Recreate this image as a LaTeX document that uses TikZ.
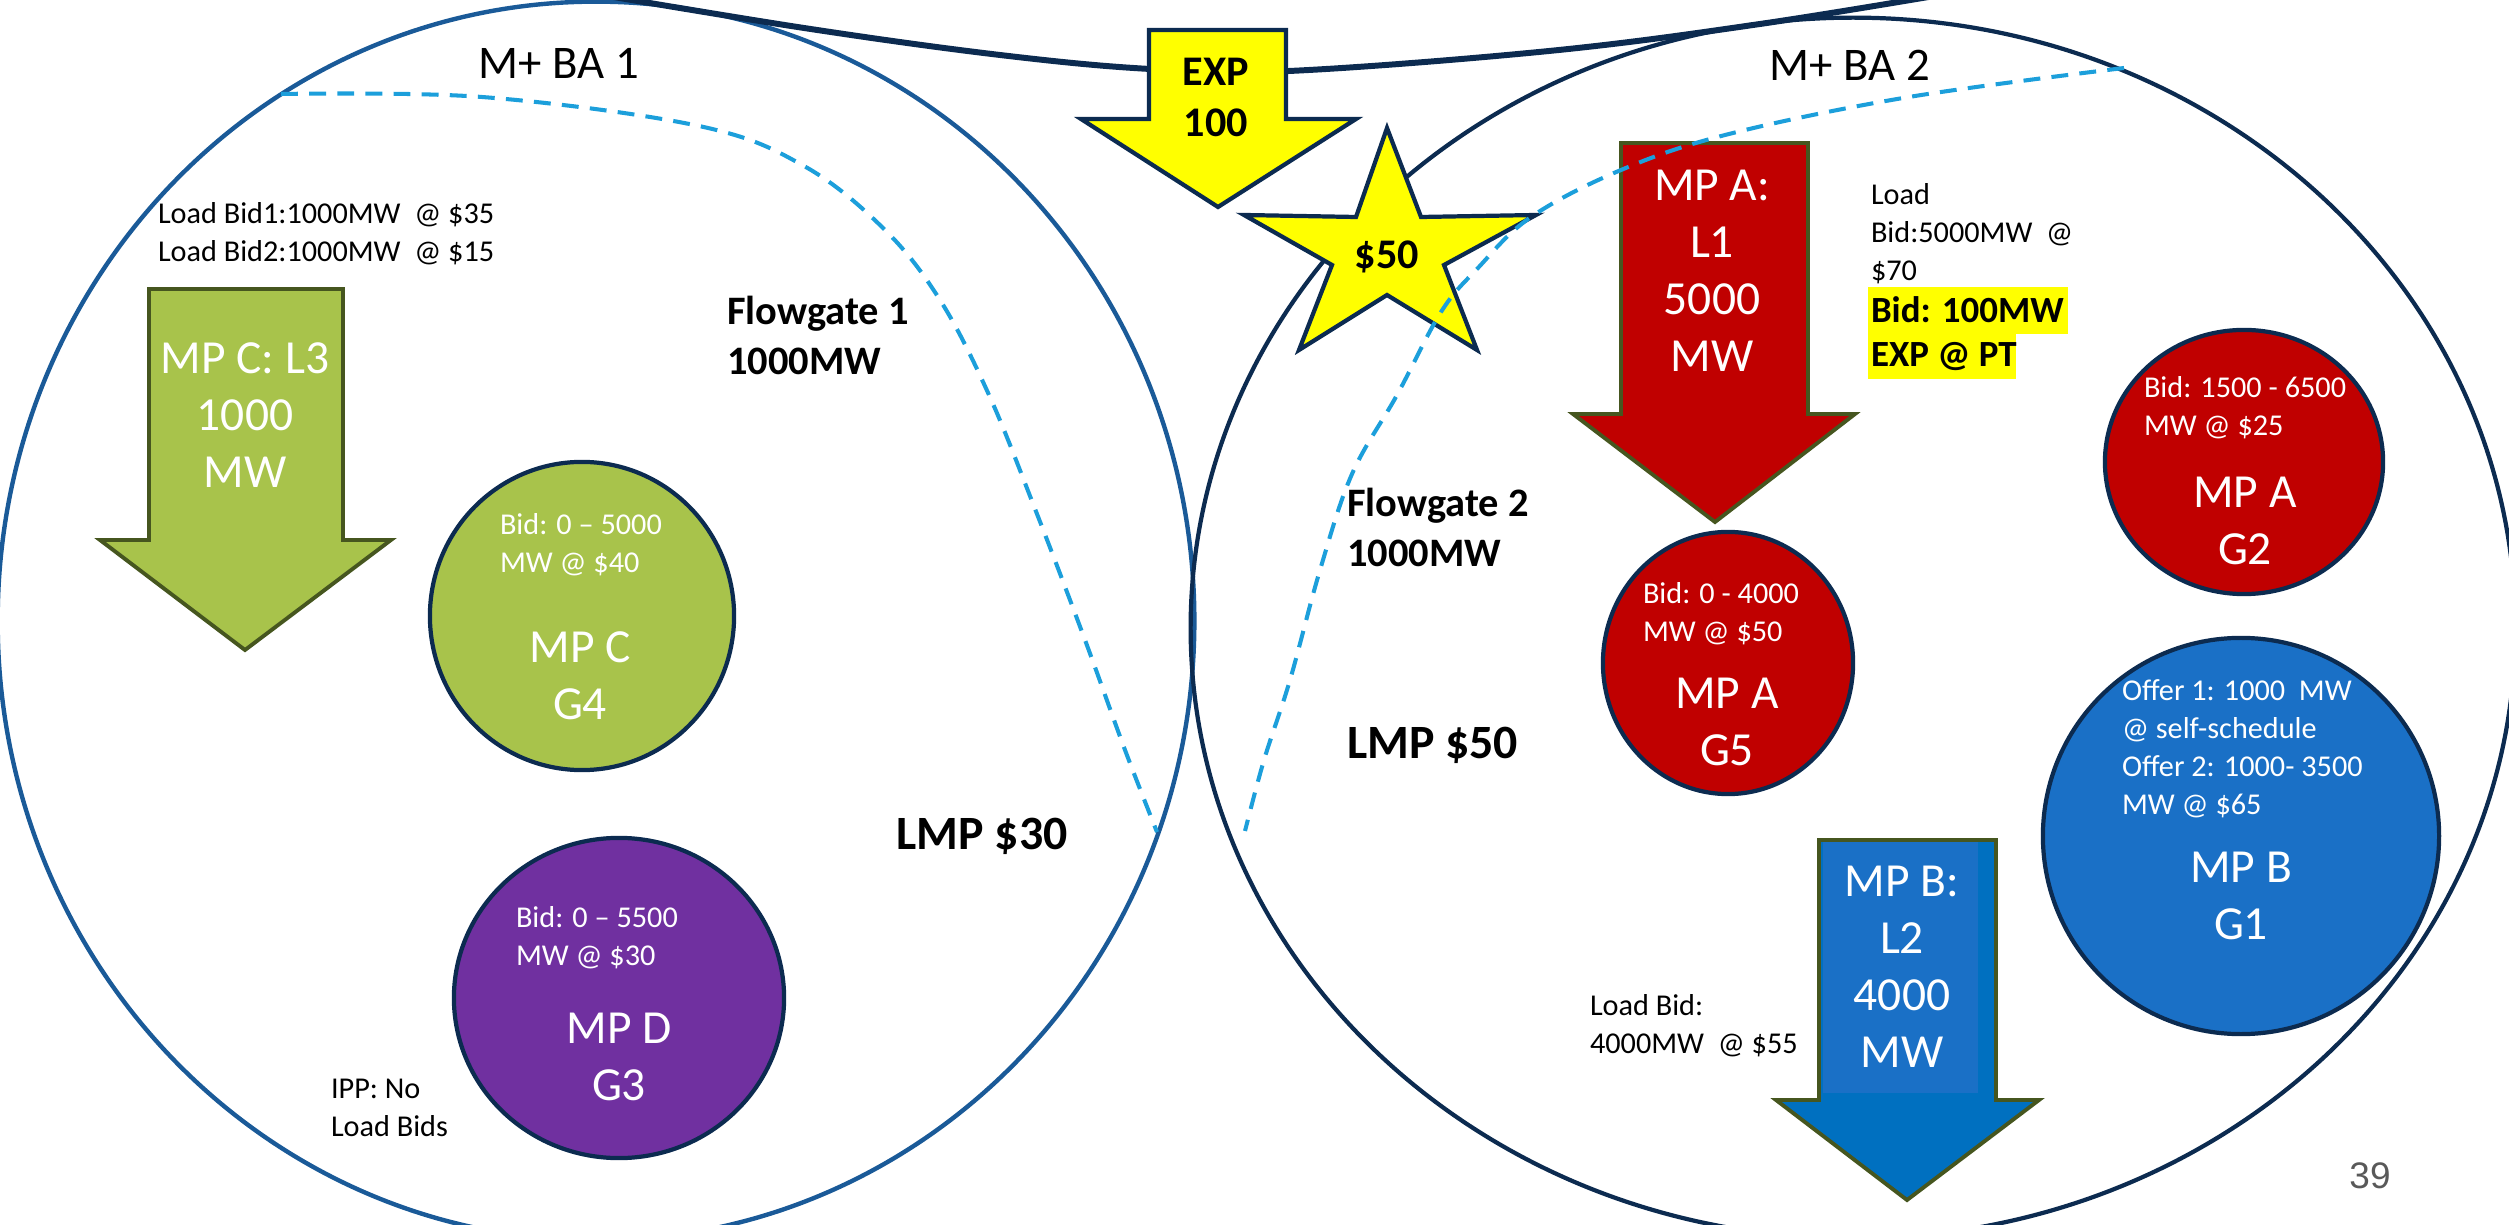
\documentclass[tikz,border=0pt]{standalone}
\usepackage{fontspec}
\setmainfont{Carlito}
\newfontfamily\pagenumfont{Liberation Sans}
\definecolor{baone}{HTML}{1A5A98}
\definecolor{navyline}{HTML}{0C2B50}
\definecolor{fgblue}{HTML}{1C9FDB}
\definecolor{arrowedge}{HTML}{46561F}
\definecolor{leafgreen}{HTML}{A8C34B}
\definecolor{mpred}{HTML}{C00000}
\definecolor{mppurple}{HTML}{7030A0}
\definecolor{mpblue}{HTML}{1A70C6}
\definecolor{mpbluedeep}{HTML}{0070C0}
\definecolor{hiyellow}{HTML}{FFFF00}
\definecolor{pagegray}{HTML}{595959}
\begin{document}
\begin{tikzpicture}[x=0.01cm,y=-0.01cm,
  every node/.style={inner sep=0pt, outer sep=0pt},
  baA/.style={draw=baone, line width=1.25pt},
  baB/.style={draw=navyline, line width=1.2pt},
  tie/.style={draw=navyline, line width=1.7pt},
  fgate/.style={draw=fgblue, line width=1.15pt, dash pattern=on 4.8pt off 3.2pt},
  loadarrow/.style={draw=arrowedge, line width=1.1pt, line join=miter},
  unitdisc/.style={draw=navyline, line width=1.2pt},
  callout/.style={draw=navyline, fill=hiyellow, line width=1.2pt, line join=miter},
  note/.style={font=\fontsize{8.6}{10.8}\selectfont, align=left, anchor=west},
  bidtxt/.style={note, text=white},
  bigtxt/.style={font=\fontsize{13.5}{16.2}\selectfont, align=center, text=white},
  hdr/.style={font=\fontsize{13.3}{16}\selectfont},
  boldlab/.style={font=\fontsize{11.5}{14.2}\selectfont\bfseries, align=left, anchor=west},
  lmp/.style={font=\fontsize{13.6}{16}\selectfont\bfseries},
]
\clip (0,0) rectangle (2509,1225);

% balancing area boundaries
\draw[baA] (596,621) ellipse [x radius=5.98cm, y radius=6.19cm];
\draw[baB] (1853,628) ellipse [x radius=6.62cm, y radius=6.10cm];

% interchange tie across the top
\draw[tie] plot[smooth, tension=0.6] coordinates {(560,-12) (804,28) (1000,55) (1150,69) (1289,71) (1549,51) (1760,24) (1970,-10)};

% export arrow
\draw[callout] (1149,30) -- (1286,30) -- (1286,119) -- (1356,119) -- (1218,207) -- (1081,119) -- (1149,119) -- cycle;

% BA 1 load and units
\draw[loadarrow, fill=leafgreen] (149,289) -- (343,289) -- (343,540) -- (391,540) -- (245,650) -- (100,540) -- (149,540) -- cycle;
\draw[unitdisc, fill=leafgreen] (582,616) ellipse [x radius=1.52cm, y radius=1.54cm];
\draw[unitdisc, fill=mppurple] (619,998) ellipse [x radius=1.65cm, y radius=1.60cm];

% BA 2 load and units
\draw[loadarrow, fill=mpred] (1621,143) -- (1808,143) -- (1808,414) -- (1855,414) -- (1715,522) -- (1573,414) -- (1621,414) -- cycle;
\draw[callout] (1387,128) -- (1421,217) -- (1536,215) -- (1444,265) -- (1477,350) -- (1387,295) -- (1299,350) -- (1332,265) -- (1244,215) -- (1356,217) -- cycle;
\draw[unitdisc, fill=mpred] (2244,462) ellipse [x radius=1.39cm, y radius=1.32cm];
\draw[unitdisc, fill=mpred] (1728,663) ellipse [x radius=1.25cm, y radius=1.31cm];
\draw[unitdisc, fill=mpblue] (2241,836) ellipse [x radius=1.98cm, y radius=1.98cm];
\fill[mpbluedeep] (1819,840) -- (1996,840) -- (1996,1100) -- (2039,1100) -- (1907,1200) -- (1776,1100) -- (1819,1100) -- cycle;
\fill[mpblue] (1823,841) rectangle (1978,1093);
\draw[loadarrow] (1819,840) -- (1996,840) -- (1996,1100) -- (2039,1100) -- (1907,1200) -- (1776,1100) -- (1819,1100) -- cycle;

% flowgates
\draw[fgate] plot[smooth, tension=0.6] coordinates {(281,94) (482,97) (699,126) (804,166) (884,229) (940,300) (989,395) (1037,514) (1085,640) (1125,750) (1157,832)};
\draw[fgate] plot[smooth, tension=0.6] coordinates {(2124,68) (1909,97) (1729,134) (1621,170) (1531,217) (1477,269) (1441,312) (1397,395) (1352,474) (1320,570) (1290,680) (1264,760) (1245,831)};

% labels
\node[hdr] (ba1) at (559,63) {M+ BA 1};
\node[hdr] (ba2) at (1850,65) {M+ BA 2};
\node[note] (l3bid) at (158,234) {Load Bid1:1000MW~~@ \$35\\Load Bid2:1000MW~~@ \$15};
\node[bigtxt] (l3) at (245,415) {MP C: L3\\1000\\MW};
\node[boldlab] (fg1) at (727,335) {Flowgate 1\\1000MW};
\node[bidtxt] (g4bid) at (500,545) {Bid: 0 – 5000\\MW @ \$40};
\node[bigtxt] (g4) at (580,676) {MP C\\G4};
\node[bidtxt] (g3bid) at (516,938) {Bid: 0 – 5500\\MW @ \$30};
\node[bigtxt] (g3) at (619,1057) {MP D\\G3};
\node[note] (ipp) at (331,1108) {IPP: No\\Load Bids};
\node[lmp] (lmp1) at (982,836) {LMP \$30};

\node[font=\fontsize{12}{14.5}\selectfont\bfseries, align=center] (exp) at (1216,97) {EXP\\100};
\node[font=\fontsize{12}{14.5}\selectfont\bfseries] (price) at (1387,257) {\$50};

\node[bigtxt] (l1) at (1712,271) {MP A:\\L1\\5000\\MW};
\node[note] (l1bid) at (1871,234) {Load\\Bid:5000MW~~@\\\$70};
\fill[hiyellow] (1868,287) rectangle (2068,334);
\fill[hiyellow] (1868,334) rectangle (2016,379);
\node[font=\fontsize{10.5}{12.5}\selectfont\bfseries, align=left, anchor=west] (expbid) at (1871,334) {Bid: 100MW\\EXP @ PT};
\node[bidtxt] (g2bid) at (2144,408) {Bid: 1500 - 6500\\MW @ \$25};
\node[bigtxt] (g2) at (2245,521) {MP A\\G2};
\node[boldlab] (fg2) at (1347,527) {Flowgate 2\\1000MW};
\node[bidtxt] (g5bid) at (1643,614) {Bid: 0 - 4000\\MW @ \$50};
\node[bigtxt] (g5) at (1727,722) {MP A\\G5};
\node[lmp, anchor=west] (lmp2) at (1347,745) {LMP \$50};
\node[bidtxt] (g1bid) at (2122,749) {Offer 1: 1000~~MW\\@ self-schedule\\Offer 2: 1000- 3500\\MW @ \$65};
\node[bigtxt] (g1) at (2241,896) {MP B\\G1};
\node[bigtxt] (l2) at (1902,967) {MP B:\\L2\\4000\\MW};
\node[note] (l2bid) at (1590,1026) {Load Bid:\\4000MW~~@ \$55};
\node[font=\pagenumfont\fontsize{10.5}{12}\selectfont, text=pagegray] (pg) at (2370,1176) {39};
\end{tikzpicture}
\end{document}
